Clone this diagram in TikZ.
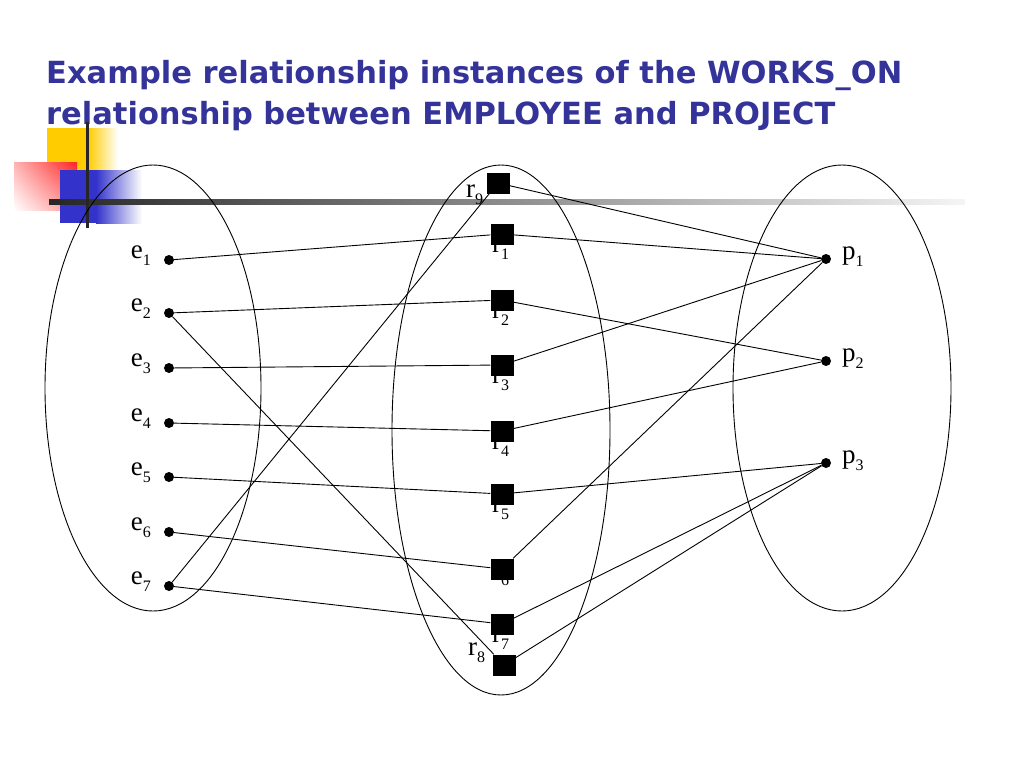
\documentclass[tikz,border=0pt]{standalone}
\usepackage{fontspec}
\setmainfont{Liberation Serif}
\newfontfamily\titlefont{DejaVu Sans}
\usetikzlibrary{positioning,shadings}
\definecolor{titleblue}{HTML}{333399}
\definecolor{decoyellow}{HTML}{FFCC00}
\definecolor{decored}{HTML}{FF2424}
\definecolor{decoblue}{HTML}{3333CC}
\newcommand{\lblsub}[1]{\raisebox{-7pt}{\fontsize{16}{16}\selectfont #1}}
\tikzset{
  edot/.style={circle, fill=black, inner sep=0pt, minimum size=10pt},
  relbox/.style={fill=black, inner sep=0pt, minimum width=23pt, minimum height=21pt},
  lbl/.style={font=\fontsize{27}{29}\selectfont, inner sep=0pt},
  link/.style={line width=0.9pt},
  setoval/.style={line width=0.9pt}
}

\begin{document}
\begin{tikzpicture}[x=1pt, y=-1pt]
    \useasboundingbox (0,0) rectangle (1024,768);
    % slide title
    \node[anchor=base west, text=titleblue, align=left, inner sep=0pt,
          font=\titlefont\bfseries\fontsize{30.5}{41}\selectfont] (title) at (46,124)
        {Example relationship instances of the WORKS\_ON\\relationship between EMPLOYEE and PROJECT};
    % corner decoration
    \fill[decoyellow] (47,128) rectangle (88,172);
    \shade[left color=decoyellow, right color=white] (88,128) rectangle (118,172);
    \shade[upper left=decored!35, upper right=decored, lower left=white, lower right=decored!50]
        (14,162) rectangle (77,210);
    \fill[decoblue] (60,170) rectangle (96,223);
    \shade[left color=decoblue, right color=white] (96,170) rectangle (142,223);
    \shade[left color=black!85, right color=black!4] (49,199) rectangle (965,204);
    \fill[black!85] (85.5,122) rectangle (88.5,228);

    % entity sets
    \draw[setoval] (153,388) ellipse [x radius=108, y radius=223];
    \draw[setoval] (501,430) ellipse [x radius=109, y radius=265];
    \draw[setoval] (842,388) ellipse [x radius=109, y radius=223];

    % employees
    \foreach \i/\y in {1/260, 2/313, 3/368, 4/423, 5/477, 6/532, 7/586} {
        \node[edot] (e\i) at (169,\y) {};
        \node[lbl, anchor=base east] (le\i) at (151,\y-2) {e\lblsub{\i}};
    }
    % projects
    \foreach \i/\y in {1/259, 2/361, 3/463} {
        \node[edot] (p\i) at (826,\y) {};
        \node[lbl, anchor=base west] (lp\i) at (842,\y) {p\lblsub{\i}};
    }
    % relationship instance labels (squares drawn over them)
    \foreach \i/\y/\d in {1/234/18, 2/300/18, 3/365/18, 4/431/18, 5/494/18, 6/569/9, 7/624/18} {
        \node[lbl, anchor=base west] (lr\i) at (492,\y+\d) {r\lblsub{\i}};
    }
    \node[lbl, anchor=base west] (lr8) at (468,655) {r\lblsub{8}};
    \node[lbl, anchor=base west] (lr9) at (466,197) {r\lblsub{9}};
    \foreach \i/\x/\y in {1/502/234, 2/502/300, 3/502/365, 4/502/431, 5/502/494,
                          6/502/569, 7/502/624, 8/504/665, 9/498/183} {
        \node[relbox] (r\i) at (\x,\y) {};
    }

    % WORKS_ON instances
    \draw[link] (e1) -- (r1) -- (p1);
    \draw[link] (e2) -- (r2) -- (p2);
    \draw[link] (e3) -- (r3) -- (p1);
    \draw[link] (e4) -- (r4) -- (p2);
    \draw[link] (e5) -- (r5) -- (p3);
    \draw[link] (e6) -- (r6) -- (p1);
    \draw[link] (e7) -- (r7) -- (p3);
    \draw[link] (e2) -- (r8) -- (p3);
    \draw[link] (e7) -- (r9) -- (p1);
\end{tikzpicture}
\end{document}
